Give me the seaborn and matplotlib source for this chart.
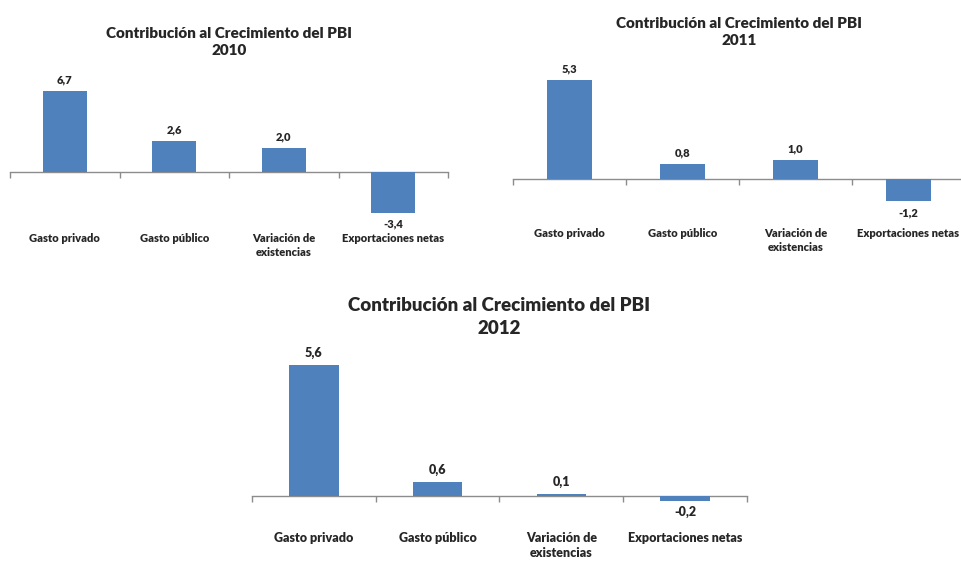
import numpy as np
import matplotlib
matplotlib.use("Agg")
import matplotlib.pyplot as plt
import seaborn as sns

categorias = ["Gasto privado", "Gasto público", "Variación de\nexistencias", "Exportaciones netas"]
anios = ["2010", "2011", "2012"]
valores_2010 = [6.7, 2.6, 2.0, -3.4]
valores_2011 = [5.3, 0.8, 1.0, -1.2]
valores_2012 = [5.6, 0.6, 0.1, -0.2]

sns.set_style("white")
plt.rcParams["font.family"] = ["Lato", "DejaVu Sans"]
plt.rcParams["font.weight"] = "heavy"

W, H = 962, 563
fig = plt.figure(figsize=(W / 100, H / 100), dpi=100)
azul = "#4F81BD"

# layout in pixels: left, right, zero line y, px per unit, ylim, title y, label y, font sizes
paneles = [
    dict(vals=valores_2010, anio=anios[0], x0=10, x1=448, zero=172, ppu=12.1, ylim=(-4.4, 7.6),
         ty=42, ly=240, tfs=11, cfs=8, vfs=8),
    dict(vals=valores_2011, anio=anios[1], x0=513, x1=965, zero=179, ppu=18.7, ylim=(-1.9, 5.6),
         ty=32, ly=235, tfs=11, cfs=8, vfs=8),
    dict(vals=valores_2012, anio=anios[2], x0=252, x1=747, zero=496, ppu=23.4, ylim=(-0.8, 5.9),
         ty=317, ly=539, tfs=13.5, cfs=9, vfs=9),
]

for p in paneles:
    lo, hi = p["ylim"]
    ytop = p["zero"] - hi * p["ppu"]
    ybot = p["zero"] - lo * p["ppu"]
    ax = fig.add_axes([p["x0"] / W, 1 - ybot / H, (p["x1"] - p["x0"]) / W, (ybot - ytop) / H])
    sns.barplot(x=list(range(4)), y=p["vals"], color=azul, saturation=1, width=0.4, ax=ax,
                zorder=3, linewidth=0)
    ax.set_xlim(-0.5, 3.5)
    ax.set_ylim(lo, hi)
    for s in ["top", "right", "left"]:
        ax.spines[s].set_visible(False)
    ax.spines["bottom"].set_position(("data", 0))
    ax.spines["bottom"].set_color("#8c8c8c")
    ax.spines["bottom"].set_linewidth(1)
    ax.spines["bottom"].set_zorder(1)
    ax.set_yticks([])
    ax.set_xticks(np.arange(-0.5, 4, 1))
    ax.set_xticklabels([])
    ax.tick_params(axis="x", direction="out", length=4, width=1, color="#8c8c8c", bottom=True)
    ax.set_xlabel("")
    ax.set_ylabel("")
    ax.patch.set_alpha(0)
    ax.bar_label(ax.containers[0], labels=[f"{v:.1f}".replace(".", ",") for v in p["vals"]],
                 padding=4, fontsize=p["vfs"], fontweight="heavy")
    for i, c in enumerate(categorias):
        ax.annotate(c, xy=(i, H - p["ly"] + 7), xycoords=("data", "figure pixels"),
                    ha="center", va="top", fontsize=p["cfs"], fontweight="heavy",
                    linespacing=1.3, annotation_clip=False)
    xc = (p["x0"] + p["x1"]) / 2
    fig.text(xc / W, 1 - p["ty"] / H, "Contribución al Crecimiento del PBI\n" + p["anio"],
             ha="center", va="center", fontsize=p["tfs"], fontweight="heavy", linespacing=1.45)

fig.savefig("out.png", dpi=100)
